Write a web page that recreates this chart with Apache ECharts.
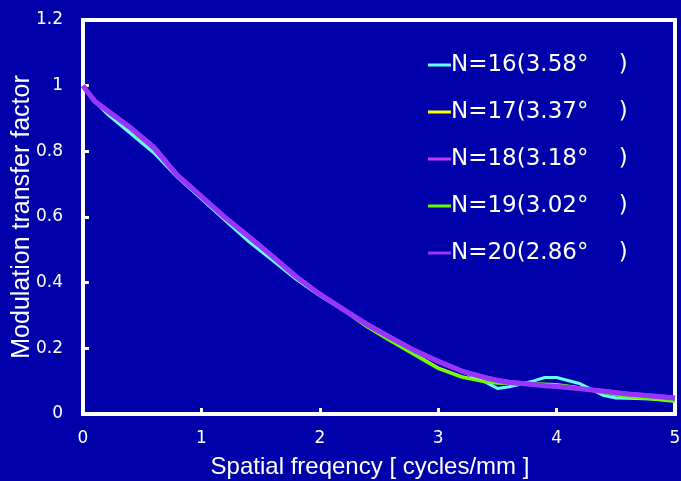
<!DOCTYPE html>
<html>
<head>
<meta charset="utf-8">
<script src="https://cdn.jsdelivr.net/npm/echarts@6/dist/echarts.min.js"></script>
<style>
  html, body { margin: 0; padding: 0; background: #0000AA; }
  #chart { width: 681px; height: 481px; }
</style>
</head>
<body>
<div id="chart"></div>
<script>
// Spatial frequency samples (cycles/mm)
const freq = [0, 0.1, 0.2, 0.4, 0.6, 0.8, 1.0, 1.2, 1.4, 1.6, 1.8, 2.0, 2.2, 2.4, 2.6, 2.8, 3.0, 3.2, 3.4, 3.5, 3.6, 3.8, 3.9, 4.0, 4.2, 4.4, 4.5, 4.6, 4.8, 5.0];

// MTF per number of elements
const mtfN16 = [1.0, 0.952, 0.915, 0.855, 0.795, 0.72, 0.655, 0.59, 0.525, 0.468, 0.41, 0.36, 0.316, 0.272, 0.232, 0.192, 0.158, 0.13, 0.097, 0.078, 0.083, 0.1, 0.111, 0.111, 0.092, 0.056, 0.049, 0.048, 0.046, 0.04];
const mtfN17 = [1.0, 0.952, 0.922, 0.866, 0.804, 0.726, 0.66, 0.596, 0.536, 0.476, 0.416, 0.362, 0.318, 0.268, 0.226, 0.184, 0.142, 0.115, 0.1, 0.096, 0.094, 0.092, 0.091, 0.09, 0.081, 0.067, 0.06, 0.054, 0.048, 0.04];
const mtfN18 = [1.0, 0.954, 0.927, 0.874, 0.814, 0.728, 0.664, 0.6, 0.542, 0.482, 0.42, 0.366, 0.32, 0.274, 0.234, 0.195, 0.162, 0.132, 0.112, 0.104, 0.098, 0.091, 0.087, 0.085, 0.078, 0.07, 0.066, 0.062, 0.056, 0.05];
const mtfN19 = [1.0, 0.952, 0.923, 0.866, 0.805, 0.727, 0.662, 0.598, 0.538, 0.478, 0.416, 0.362, 0.316, 0.265, 0.222, 0.18, 0.138, 0.112, 0.097, 0.094, 0.093, 0.092, 0.091, 0.09, 0.08, 0.065, 0.058, 0.052, 0.046, 0.038];
const mtfN20 = [1.0, 0.952, 0.925, 0.872, 0.81, 0.725, 0.662, 0.598, 0.54, 0.48, 0.418, 0.365, 0.318, 0.272, 0.232, 0.193, 0.16, 0.13, 0.11, 0.102, 0.096, 0.09, 0.086, 0.084, 0.077, 0.069, 0.065, 0.061, 0.055, 0.048];

const seriesNames = ['N=16(3.58°\u3000 )', 'N=17(3.37°\u3000 )', 'N=18(3.18°\u3000 )', 'N=19(3.02°\u3000 )', 'N=20(2.86°\u3000 )'];
const seriesValues = [mtfN16, mtfN17, mtfN18, mtfN19, mtfN20];
const seriesColors = ['#66FFFF', '#FFFF00', '#CC33FF', '#66FF00', '#9933FF'];
const seriesWidths = [3, 2, 4, 3, 5];

const xTicks = { min: 0, max: 5, interval: 1 };
const yTicks = { min: 0, max: 1.2, interval: 0.2 };

const titleFont = '"Liberation Sans", Arial, sans-serif';
const labelFont = '"DejaVu Sans", sans-serif';

const chart = echarts.init(document.getElementById('chart'));

chart.setOption({
  backgroundColor: '#0000AA',
  animation: false,
  grid: {
    left: 83, top: 20, right: 6, bottom: 67,
    containLabel: false, outerBoundsMode: 'none',
    show: true, borderColor: '#FFFFFF', borderWidth: 4
  },
  legend: {
    orient: 'vertical',
    left: 423, top: 48,
    itemWidth: 23, itemHeight: 3,
    itemGap: 23,
    icon: 'rect',
    data: seriesNames,
    textStyle: { color: '#FFFFFF', fontSize: 23, fontFamily: labelFont, lineHeight: 24, padding: [0, 0, 0, -5] }
  },
  xAxis: {
    type: 'value',
    min: xTicks.min, max: xTicks.max, interval: xTicks.interval,
    name: 'Spatial freqency [ cycles/mm ]',
    nameLocation: 'middle', nameGap: 41, nameMoveOverlap: false,
    nameTextStyle: { color: '#FFFFFF', fontSize: 24, fontFamily: titleFont, padding: [0, 18, 0, 0] },
    axisLine: { show: true, lineStyle: { color: '#FFFFFF', width: 4 } },
    axisTick: { show: true, inside: true, length: 6, lineStyle: { color: '#FFFFFF', width: 3 } },
    axisLabel: { color: '#FFFFFF', fontSize: 17, fontFamily: labelFont, margin: 16,
      formatter: v => String(v) },
    splitLine: { show: false }
  },
  yAxis: {
    type: 'value',
    min: yTicks.min, max: yTicks.max, interval: yTicks.interval,
    name: 'Modulation transfer factor',
    nameLocation: 'middle', nameGap: 48, nameMoveOverlap: false,
    nameTextStyle: { color: '#FFFFFF', fontSize: 25, fontFamily: titleFont },
    axisLine: { show: true, lineStyle: { color: '#FFFFFF', width: 4 } },
    axisTick: { show: true, inside: true, length: 6, lineStyle: { color: '#FFFFFF', width: 3 } },
    axisLabel: { color: '#FFFFFF', fontSize: 17, fontFamily: labelFont, margin: 20,
      formatter: v => String(Math.round(v * 10) / 10) },
    splitLine: { show: false }
  },
  series: seriesNames.map((name, i) => ({
    name: name,
    type: 'line',
    data: freq.map((f, k) => [f, seriesValues[i][k]]),
    symbol: 'none',
    smooth: false,
    color: seriesColors[i],
    lineStyle: { color: seriesColors[i], width: seriesWidths[i] }
  }))
});
</script>
</body>
</html>
